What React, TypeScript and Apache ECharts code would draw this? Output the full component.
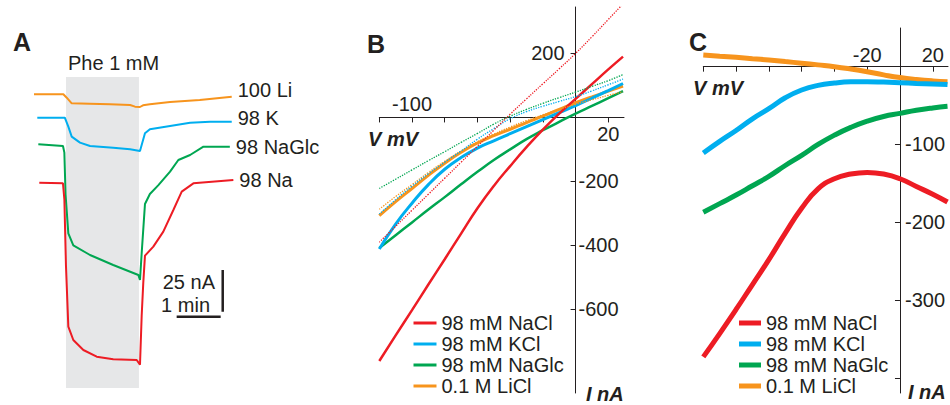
import React, { useEffect, useRef } from 'react';
import * as echarts from 'echarts';

// ---------- Panel A: current traces (time in s, current in nA relative to baseline) ----------
const traceNames = ['100 Li', '98 K', '98 NaGlc', '98 Na'];
const liTime = [0, 40, 44.6, 51.4, 76, 103.6, 131, 137.7, 144.5, 148.6, 158, 185.5, 226, 269.6];
const liCurrent = [0, 0, -2, -5.4, -5.6, -6, -6.4, -7.4, -7.6, -6.6, -6, -4.6, -3.4, -1.4];
const kTime = [4.5, 42, 46.8, 51.4, 62.7, 76.4, 108, 131, 144.5, 151.3, 158, 185.5, 212.8, 240, 269.6];
const kCurrent = [0, 0, -5.4, -11.4, -15, -17, -18, -19, -20, -9.4, -7, -5, -3, -2.4, -2.4];
const naGlcTime = [5.9, 39.5, 41.4, 43, 46.8, 53.6, 76.4, 108, 142.3, 144.5, 146.8, 151.3, 158, 169.3, 185.5, 196.8, 212.8, 231, 267];
const naGlcCurrent = [0, -1, -5, -30, -53.4, -60.6, -66.4, -72.4, -78.4, -81.4, -65.4, -35.8, -29.8, -24.6, -16.4, -9.4, -6.4, -1.4, -1.4];
const naTime = [7.2, 39.5, 41.4, 43.6, 46.8, 53.6, 67.3, 85.5, 108, 140, 144.5, 146.8, 149, 151.3, 162.7, 176.3, 190, 201.4, 217.3, 271.8];
const naCurrent = [0, -0.4, -10, -50, -86.4, -94.4, -100.4, -104.4, -106, -106.4, -109.2, -80, -60, -43.8, -38.4, -29.4, -16.4, -5.4, -0.4, 1.6];
const traceOffsets = [-10.4, -24.4, -40.4, -63.4]; // vertical stacking of the traces (nA)
const pheStart = 43.6; // s
const pheEnd = 143.1; // s
const scaleBarSeconds = 60;
const scaleBarNanoamps = 25;

// ---------- Panels B and C: I–V curves ----------
const legendNames = ['98 mM NaCl', '98 mM KCl', '98 mM NaGlc', '0.1 M LiCl'];
const voltage = [-120, -110, -100, -90, -80, -70, -60, -50, -40, -30, -20, -10, 0, 10, 20, 29];
// Panel B, measured (solid)
const naClB = [-761, -681, -602, -522, -443, -363, -284, -214, -152, -93, -38, 12, 58, 104, 150, 190];
const kClB = [-411, -333, -268, -210, -162, -125, -96, -73, -51, -29, -7, 15, 37, 60, 84, 106];
const naGlcB = [-408, -368, -328, -288, -249, -209, -170, -133, -100, -68, -40, -14, 12, 36, 60, 82];
const liClB = [-307, -263, -222, -181, -143, -109, -80, -57, -37, -16, 4, 25, 46, 64, 82, 98];
// Panel B, fitted (dotted)
const naClFit = [-390, -340, -290, -240, -190, -140, -90, -40, 10, 58, 105, 152, 200, 252, 306, 355];
const kClFit = [-302, -257, -215, -176, -140, -105, -68, -35, -4, 18, 35, 50, 65, 83, 102, 120];
const naGlcFit = [-222, -193, -164, -135, -107, -78, -50, -21, 4, 25, 44, 62, 79, 97, 115, 134];
const liClFit = [-287, -247, -210, -172, -137, -105, -76, -52, -30, -10, 8, 25, 41, 55, 69, 80];
// Panel C
const naClC = [-373, -343, -312, -280, -248, -214, -182, -157, -144, -138, -136, -138, -144, -154, -164, -174];
const kClC = [-111, -96, -82, -67, -54, -40, -30, -24, -21, -19.5, -19.3, -19.8, -20.6, -21.5, -22.3, -23];
const naGlcC = [-187, -176, -165, -153, -141, -127, -114, -100, -88, -78, -70, -64, -60, -56, -53, -51];
const liClC = [15, 13.5, 12, 10.3, 8.5, 6.5, 4.5, 2.3, 0, -3, -6.5, -10.5, -14, -16.5, -18.3, -19.3];

const xTicksB = [-120, -100, -80, -60, -40, -20, 20];
const xLabelsBAbove = [-100];
const xLabelsBBelow = [20];
const yTicksB = [200, -200, -400, -600];
const yLabelsBRight = [-200, -400, -600];
const yLabelsBLeft = [200];
const xTicksC = [-120, -100, -80, -60, -40, -20, 20];
const xLabelsC = [-20, 20];
const yTicksC = [-100, -200, -300, -400];
const yLabelsC = [-100, -200, -300];

const RED = '#ed1c24';
const BLUE = '#00aeef';
const GREEN = '#00a651';
const ORANGE = '#f7941d';
const INK = '#231f20';
const FONT = 'Arial, "Liberation Sans", Helvetica, sans-serif';

const pair = (xs: number[], ys: number[], off = 0) => xs.map((x, i) => [x, ys[i] + off]);

// grid boxes and axis ranges
const gB = { left: 379.3, top: 7, width: 244.7, height: 386 };
const rangeBx = [-120, 29.6];
const rangeBy = [-861, 345];
const gC = { left: 703.3, top: 28, width: 244.7, height: 365 };
const rangeCx = [-120, 29.3];
const rangeCy = [-419.4, 49.7];
// distance of the zero lines from the grid's left / bottom edge (axes cross at the origin)
const zeroFromLeft = (g: any, r: number[]) => ((0 - r[0]) / (r[1] - r[0])) * g.width;
const zeroFromBottom = (g: any, r: number[]) => ((0 - r[0]) / (r[1] - r[0])) * g.height;

function buildOption() {
  const axisLine = { onZero: false, lineStyle: { color: INK, width: 1 } };
  const tick = (vals: number[]) => ({ show: true, customValues: vals, length: 5, inside: false, lineStyle: { color: INK, width: 1 } });
  const lab = (vals: number[], inside: boolean, margin: number) => ({
    show: true, customValues: vals, inside, margin, fontSize: 20, color: INK, fontFamily: FONT,
  });

  const traces = [
    [liTime, liCurrent, ORANGE, -7],
    [kTime, kCurrent, BLUE, -4],
    [naGlcTime, naGlcCurrent, GREEN, 0],
    [naTime, naCurrent, RED, 0],
  ] as const;

  const seriesA: any[] = traces.map(([t, c, color, dy], i) => ({
    type: 'line', name: traceNames[i], xAxisIndex: 0, yAxisIndex: 0,
    data: pair(t as number[], c as number[], traceOffsets[i]),
    symbol: 'none', silent: true, color, lineStyle: { color, width: 2 },
    endLabel: { show: true, formatter: () => traceNames[i], distance: 6, offset: [0, dy], fontSize: 20, color: INK, fontFamily: FONT },
    markArea: i === 0 ? {
      silent: true, itemStyle: { color: '#e6e7e8' }, label: { show: false },
      data: [[{ xAxis: pheStart }, { xAxis: pheEnd }]],
    } : undefined,
  }));
  const barEndT = 254.5;
  const barY = -143.8;
  const vBarT = 257.3;
  const vBarTop = -115.8;
  seriesA.push({
    type: 'line', name: 'time bar', xAxisIndex: 0, yAxisIndex: 0, symbol: 'none', silent: true,
    lineStyle: { color: INK, width: 2.5 }, color: INK,
    data: [[barEndT - scaleBarSeconds, barY], [barEndT, barY]],
  });
  seriesA.push({
    type: 'line', name: 'current bar', xAxisIndex: 0, yAxisIndex: 0, symbol: 'none', silent: true,
    lineStyle: { color: INK, width: 2.5 }, color: INK,
    data: [[vBarT, vBarTop], [vBarT, vBarTop - scaleBarNanoamps]],
  });

  const solidB = [
    [liClB, ORANGE, 3], [naGlcB, GREEN, 2.5], [kClB, BLUE, 3], [naClB, RED, 2.5],
  ] as const;
  const solidNames = [legendNames[3], legendNames[2], legendNames[1], legendNames[0]];
  const seriesB: any[] = solidB.map(([ys, color, w], i) => ({
    type: 'line', name: solidNames[i], xAxisIndex: 1, yAxisIndex: 1, data: pair(voltage, ys as number[]),
    symbol: 'none', silent: true, smooth: true, color, lineStyle: { color, width: w },
  }));
  const fitB = [
    [liClFit, ORANGE, 'LiCl fit'], [kClFit, BLUE, 'KCl fit'], [naGlcFit, GREEN, 'NaGlc fit'], [naClFit, RED, 'NaCl fit'],
  ] as const;
  fitB.forEach(([ys, color, nm]) => seriesB.push({
    type: 'line', name: nm, xAxisIndex: 1, yAxisIndex: 1, data: pair(voltage, ys as number[]),
    symbol: 'none', silent: true, smooth: true, color, lineStyle: { color, width: 1.3, type: 'dotted' },
  }));

  const cData = [[liClC, ORANGE, 3], [kClC, BLUE, 1], [naGlcC, GREEN, 2], [naClC, RED, 0]] as const;
  const seriesC: any[] = cData.map(([ys, color, ni]) => ({
    type: 'line', name: legendNames[ni as number], xAxisIndex: 3, yAxisIndex: 3, data: pair(voltage, ys as number[]),
    symbol: 'none', silent: true, smooth: true, color, lineStyle: { color, width: 5 },
  }));

  const txt = (text: string, x: number, y: number, size: number, extra: any = {}) => ({
    type: 'text', x, y, silent: true,
    style: {
      text, fill: INK, fontSize: size, fontFamily: FONT,
      align: extra.align || 'left', textAlign: extra.align || 'left',
      verticalAlign: 'middle', textVerticalAlign: 'middle',
      fontWeight: extra.bold ? 'bold' : 'normal', fontStyle: extra.italic ? 'italic' : 'normal',
    },
  });

  const legendCommon = {
    orient: 'vertical', icon: 'rect', selectedMode: false, padding: 0, itemGap: 1,
    data: legendNames, textStyle: { fontSize: 20, color: INK, lineHeight: 20, fontFamily: FONT },
  };

  const offBx = -zeroFromBottom(gB, rangeBy); // move x axis up to I = 0
  const offBy = -zeroFromLeft(gB, rangeBx); // move y axis right to V = 0
  const offCx = -zeroFromBottom(gC, rangeCy);
  const offCy = -zeroFromLeft(gC, rangeCx);

  return {
    animation: false,
    backgroundColor: '#ffffff',
    textStyle: { fontFamily: FONT },
    grid: [
      { left: 34, top: 77, width: 199.5, height: 311, outerBoundsMode: 'none' },
      { ...gB, outerBoundsMode: 'none' },
      { ...gC, outerBoundsMode: 'none' },
    ],
    xAxis: [
      { type: 'value', gridIndex: 0, min: 0, max: 272, show: false },
      { type: 'value', gridIndex: 1, min: rangeBx[0], max: rangeBx[1], position: 'bottom', offset: offBx, axisLine,
        axisTick: tick(xTicksB), axisLabel: lab(xLabelsBBelow, false, 7), splitLine: { show: false } },
      { type: 'value', gridIndex: 1, min: rangeBx[0], max: rangeBx[1], position: 'bottom', offset: offBx,
        axisLine: { show: false, onZero: false }, axisTick: { show: false }, axisLabel: lab(xLabelsBAbove, true, 3),
        splitLine: { show: false } },
      { type: 'value', gridIndex: 2, min: rangeCx[0], max: rangeCx[1], position: 'bottom', offset: offCx, axisLine,
        axisTick: tick(xTicksC), axisLabel: lab(xLabelsC, true, 2), splitLine: { show: false } },
    ],
    yAxis: [
      { type: 'value', gridIndex: 0, min: -186.6, max: 0, show: false },
      { type: 'value', gridIndex: 1, min: rangeBy[0], max: rangeBy[1], position: 'left', offset: offBy, axisLine,
        axisTick: tick(yTicksB), axisLabel: lab(yLabelsBRight, true, 3), splitLine: { show: false } },
      { type: 'value', gridIndex: 1, min: rangeBy[0], max: rangeBy[1], position: 'left', offset: offBy,
        axisLine: { show: false, onZero: false }, axisTick: { show: false }, axisLabel: lab(yLabelsBLeft, false, 11),
        splitLine: { show: false } },
      { type: 'value', gridIndex: 2, min: rangeCy[0], max: rangeCy[1], position: 'left', offset: offCy, axisLine,
        axisTick: tick(yTicksC), axisLabel: lab(yLabelsC, true, 5), splitLine: { show: false } },
    ],
    legend: [
      { ...legendCommon, left: 413.5, top: 313, itemWidth: 23, itemHeight: 3 },
      { ...legendCommon, left: 739, top: 313, itemWidth: 22, itemHeight: 5 },
    ],
    graphic: [
      txt('A', 13, 42, 25, { bold: true }),
      txt('B', 367, 43.5, 25, { bold: true }),
      txt('C', 689, 41.5, 25, { bold: true }),
      txt('Phe 1 mM', 68, 63, 20),
      txt('25 nA', 215, 282, 20, { align: 'right' }),
      txt('1 min', 210, 305, 20, { align: 'right' }),
      txt('V mV', 368, 139, 20, { bold: true, italic: true }),
      txt('I nA', 586, 394, 20, { bold: true, italic: true }),
      txt('V mV', 693, 88, 20, { bold: true, italic: true }),
      txt('I nA', 908, 392, 20, { bold: true, italic: true }),
    ],
    series: [...seriesA, ...seriesB, ...seriesC],
  };
}

export default function App() {
  const ref = useRef<HTMLDivElement>(null);
  useEffect(() => {
    if (!ref.current) return;
    const chart = echarts.init(ref.current, undefined, { renderer: 'svg' });
    chart.setOption(buildOption() as any);
    return () => chart.dispose();
  }, []);
  return (
    <div
      ref={ref}
      style={{ position: 'fixed', left: 0, top: 0, width: 950, height: 405, background: '#fff' }}
    />
  );
}
